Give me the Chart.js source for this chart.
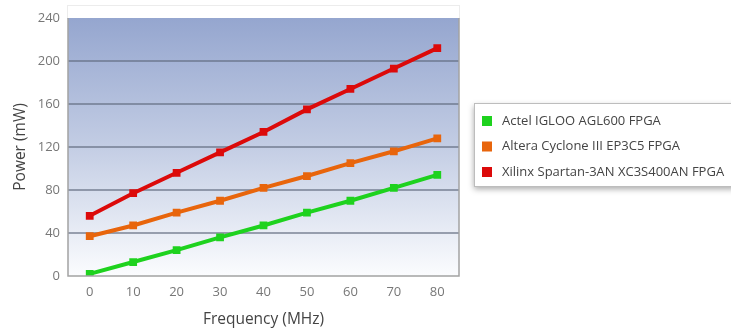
<!DOCTYPE html>
<html>
<head>
<meta charset="utf-8">
<script src="https://cdn.jsdelivr.net/npm/chart.js@4/dist/chart.umd.min.js"></script>
<style>
  html, body { margin: 0; padding: 0; background: #fff; }
  #wrap { width: 731px; height: 329px; }
</style>
</head>
<body>
<div id="wrap"><canvas id="powerChart"></canvas></div>
<script>
const frequencies = ['0', '10', '20', '30', '40', '50', '60', '70', '80'];
const actelPower = [2, 13, 24, 36, 47, 59, 70, 82, 94];
const alteraPower = [37, 47, 59, 70, 82, 93, 105, 116, 128];
const xilinxPower = [56, 77, 96, 115, 134, 155, 174, 193, 212];
const seriesNames = ['Actel IGLOO AGL600 FPGA', 'Altera Cyclone III EP3C5 FPGA', 'Xilinx Spartan-3AN XC3S400AN FPGA'];
const seriesColors = ['#1ed21e', '#e8650c', '#dc0a0a'];

const fontFamily = '"Open Sans", "Noto Sans", sans-serif';

// gradient plot background + faint frame above it
const plotBackground = {
    id: 'plotBackground',
    beforeDraw(chart) {
        const { ctx, chartArea: a } = chart;
        ctx.save();
        ctx.strokeStyle = '#ececec';
        ctx.lineWidth = 1;
        ctx.strokeRect(a.left - 0.5, 5.5, a.right - a.left + 1, a.top - 5);
        const g = ctx.createLinearGradient(0, a.top, 0, a.bottom);
        g.addColorStop(0, '#95a6cf');
        g.addColorStop(0.5, '#c3cde4');
        g.addColorStop(1, '#fbfcfe');
        ctx.fillStyle = g;
        ctx.fillRect(a.left, a.top, a.right - a.left, a.bottom - a.top);
        ctx.restore();
    },
    afterDatasetsDraw(chart) {
        const { ctx, chartArea: a } = chart;
        ctx.save();
        ctx.strokeStyle = '#a3a3a3';
        ctx.lineWidth = 1.5;
        ctx.beginPath();
        ctx.moveTo(a.left, a.top);
        ctx.lineTo(a.left, a.bottom);
        ctx.lineTo(a.right, a.bottom);
        ctx.lineTo(a.right, a.top);
        ctx.stroke();
        ctx.restore();
    }
};

// boxed legend to the right of the plot
const boxLegend = {
    id: 'boxLegend',
    afterDraw(chart) {
        const { ctx } = chart;
        const x = 474, y = 103, w = 262, h = 83;
        ctx.save();
        ctx.shadowColor = 'rgba(0,0,0,0.35)';
        ctx.shadowBlur = 6;
        ctx.shadowOffsetY = 3;
        ctx.fillStyle = '#fff';
        ctx.fillRect(x, y, w, h);
        ctx.shadowColor = 'transparent';
        ctx.strokeStyle = '#bdbdbd';
        ctx.lineWidth = 1;
        ctx.strokeRect(x + 0.5, y + 0.5, w, h);
        ctx.font = '13px ' + fontFamily;
        ctx.textBaseline = 'middle';
        chart.data.datasets.forEach((ds, i) => {
            const cy = 121 + i * 25.5;
            ctx.fillStyle = ds.borderColor;
            ctx.fillRect(482, cy - 5, 10, 10);
            ctx.fillStyle = '#444';
            ctx.fillText(ds.label, 502, cy);
        });
        ctx.restore();
    }
};

function makeSeries(i, values) {
    return {
        label: seriesNames[i],
        data: values,
        borderColor: seriesColors[i],
        backgroundColor: seriesColors[i],
        borderWidth: 4,
        pointStyle: 'rect',
        pointRadius: 5.5,
        pointBorderWidth: 0,
        fill: false,
        tension: 0
    };
}

const ctx = document.getElementById('powerChart').getContext('2d');
new Chart(ctx, {
    type: 'line',
    data: {
        labels: frequencies,
        datasets: [
            makeSeries(0, actelPower),
            makeSeries(1, alteraPower),
            makeSeries(2, xilinxPower)
        ]
    },
    options: {
        responsive: true,
        maintainAspectRatio: false,
        animation: false,
        layout: { padding: { top: 18, right: 272, bottom: 0, left: 0 } },
        plugins: {
            legend: { display: false },
            tooltip: { enabled: false }
        },
        scales: {
            x: {
                offset: true,
                grid: { display: false, drawTicks: false },
                border: { display: false },
                ticks: { color: '#777', padding: 8, font: { size: 13, family: fontFamily } },
                title: {
                    display: true,
                    text: 'Frequency (MHz)',
                    color: '#444',
                    font: { size: 15.5, family: fontFamily },
                    padding: { top: 0, bottom: 0 }
                },
                afterFit(scale) { scale.height = 53; }
            },
            y: {
                min: 0,
                max: 240,
                grid: {
                    color: (c) => (c.tick.value === 0 || c.tick.value === 240) ? 'transparent' : 'rgba(95,105,125,0.6)',
                    lineWidth: 2,
                    drawTicks: false
                },
                border: { display: false },
                ticks: { stepSize: 40, color: '#777', padding: 8, font: { size: 13, family: fontFamily } },
                title: {
                    display: true,
                    text: 'Power (mW)',
                    color: '#444',
                    font: { size: 15.5, family: fontFamily },
                    padding: { top: 11, bottom: 0 }
                },
                afterFit(scale) { scale.width = 68; }
            }
        }
    },
    plugins: [plotBackground, boxLegend]
});
</script>
</body>
</html>
